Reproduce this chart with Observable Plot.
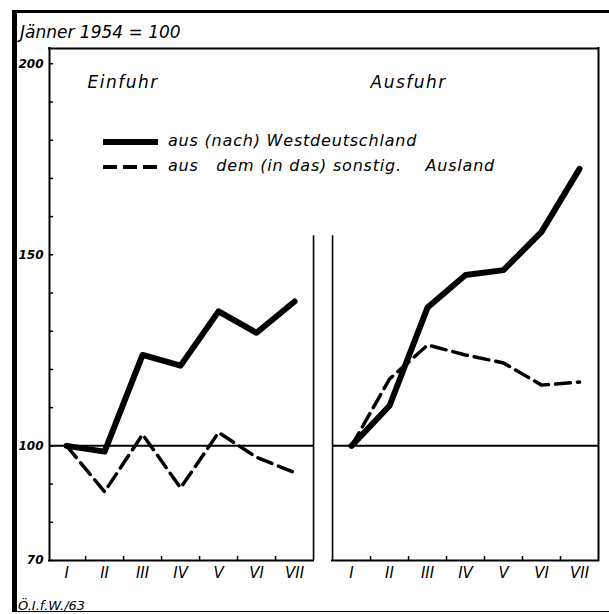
<!DOCTYPE html>
<html><head><meta charset="utf-8">
<script src="https://cdn.jsdelivr.net/npm/d3@7"></script>
<script src="https://cdn.jsdelivr.net/npm/@observablehq/plot@0.6"></script>
<style>
html,body{margin:0;padding:0;background:#fff;}
#page{position:relative;width:609px;height:614px;overflow:hidden;font-family:"DejaVu Sans",sans-serif;font-style:italic;color:#000;}
#frame{position:absolute;left:12px;top:10px;width:620px;height:602px;border-top:3px solid #000;border-left:5px solid #000;border-bottom:1.5px solid #000;box-sizing:border-box;}
#title{position:relative;height:40px;box-sizing:border-box;padding:24px 0 0 20px;font-size:17px;line-height:17px;white-space:pre;}
#chart{position:relative;height:560px;}
#chart svg{display:block;}
#caption{position:relative;font-size:13px;line-height:12px;padding-left:18px;height:14px;}
#legend{position:absolute;left:0;top:0;}
</style></head>
<body>
<div id="page">
  <div id="frame"></div>
  <div id="title">Jänner 1954 = 100</div>
  <div id="chart"></div>
  <div id="caption">Ö.I.f.W./63</div>
  <svg id="legend" width="609" height="200"></svg>
</div>
<script>
// ---- data ----
const months = ["I", "II", "III", "IV", "V", "VI", "VII"];
const panels = ["Einfuhr", "Ausfuhr"];
const seriesNames = ["aus (nach) Westdeutschland", "aus   dem (in das) sonstig.    Ausland"];
const einfuhrWest  = [100, 98.5, 123.8, 121.0, 135.2, 129.6, 137.8];
const einfuhrSonst = [100, 88.0, 103.0, 89.0, 103.5, 97.0, 93.0];
const ausfuhrWest  = [100, 110.5, 136.2, 144.7, 146.0, 156.0, 172.5];
const ausfuhrSonst = [100, 117.5, 126.4, 123.8, 121.7, 115.9, 116.7];
const yTicks = [70, 80, 90, 100, 110, 120, 130, 140, 150, 160, 170, 180, 190, 200];
const yLabels = [70, 100, 150, 200];
const baseValue = 100;

// ---- layout ----
const panelSlot = {Einfuhr: 0, Ausfuhr: 7.5};
const panelEdges = [{panel: "Einfuhr", x1: -0.45, x2: 6.5}, {panel: "Ausfuhr", x1: 7, x2: 14}];
const yMin = 70, yTop = 204, sepTop = 155;

const seriesData = {
  Einfuhr: [einfuhrWest, einfuhrSonst],
  Ausfuhr: [ausfuhrWest, ausfuhrSonst]
};
const table = panels.flatMap(panel =>
  seriesData[panel].flatMap((vals, si) =>
    months.map((m, i) => ({panel, series: si, month: m, x: panelSlot[panel] + i, value: vals[i]}))));

const labelAt = new Map(panels.flatMap(p => months.map((m, i) => [panelSlot[p] + i, m])));
const labelPos = [...labelAt.keys()];
const midPos = panels.flatMap(p => months.slice(0, -1).map((m, i) => panelSlot[p] + i + 0.5));

const chart = Plot.plot({
  width: 609, height: 560,
  marginTop: 8, marginBottom: 40, marginLeft: 49, marginRight: 11,
  x: {type: "linear", domain: [panelEdges[0].x1, panelEdges[1].x2], label: null},
  y: {domain: [yMin, yTop], label: null},
  style: {fontFamily: "DejaVu Sans", background: "transparent", overflow: "visible", color: "#000"},
  marks: [
    Plot.ruleY([yTop], {stroke: "#000", strokeWidth: 2, strokeLinecap: "square"}),
    Plot.ruleX([panelEdges[0].x1, panelEdges[1].x2], {y1: yMin, y2: yTop, stroke: "#000", strokeWidth: 2, strokeLinecap: "square"}),
    Plot.ruleX([panelEdges[0].x2, panelEdges[1].x1], {y1: yMin, y2: sepTop, stroke: "#000", strokeWidth: 1.6}),
    Plot.ruleY(panelEdges, {y: () => baseValue, x1: "x1", x2: "x2", stroke: "#000", strokeWidth: 2}),
    Plot.ruleY(panelEdges, {y: () => yMin, x1: "x1", x2: "x2", stroke: "#000", strokeWidth: 2, strokeLinecap: "square"}),
    Plot.axisY({ticks: yTicks, tickSize: -4, tickFormat: () => "", strokeWidth: 1.5}),
    Plot.axisY({ticks: yLabels, tickSize: 0, tickPadding: 6, fontSize: 12, fontWeight: "bold", fontStyle: "italic"}),
    Plot.axisX({ticks: midPos, tickSize: -4, tickFormat: () => "", strokeWidth: 1.5}),
    Plot.axisX({ticks: labelPos, tickSize: 0, tickPadding: 7, tickFormat: d => labelAt.get(d), fontSize: 15, fontStyle: "italic"}),
    Plot.text(panelEdges, {x: d => d.x1 + 1.0, y: () => yTop, text: "panel", dy: 34, textAnchor: "start", fontSize: 17, fontStyle: "italic"}),
    Plot.line(table.filter(d => d.series === 1), {x: "x", y: "value", z: "panel", stroke: "#000", strokeWidth: 3.5, strokeDasharray: "15,7", strokeLinejoin: "round"}),
    Plot.line(table.filter(d => d.series === 0), {x: "x", y: "value", z: "panel", stroke: "#000", strokeWidth: 6, strokeLinejoin: "round", strokeLinecap: "round"})
  ]
});
d3.select(chart).selectAll("text").filter(function() { return panels.includes(this.textContent); })
  .attr("letter-spacing", 1.5);
document.getElementById("chart").appendChild(chart);

// ---- legend ----
const lg = d3.select("#legend");
const legendRows = [
  {name: seriesNames[0], y: 142, w: 6, dash: null},
  {name: seriesNames[1], y: 167, w: 4, dash: "14,6"}
];
legendRows.forEach(r => {
  lg.append("line").attr("x1", 103).attr("x2", 158).attr("y1", r.y).attr("y2", r.y)
    .attr("stroke", "#000").attr("stroke-width", r.w).attr("stroke-dasharray", r.dash);
  lg.append("text").attr("x", 168).attr("y", r.y + 4)
    .attr("font-family", "DejaVu Sans").attr("font-style", "italic").attr("font-size", 16)
    .attr("letter-spacing", 0.8).style("white-space", "pre").text(r.name);
});
</script>
</body></html>
